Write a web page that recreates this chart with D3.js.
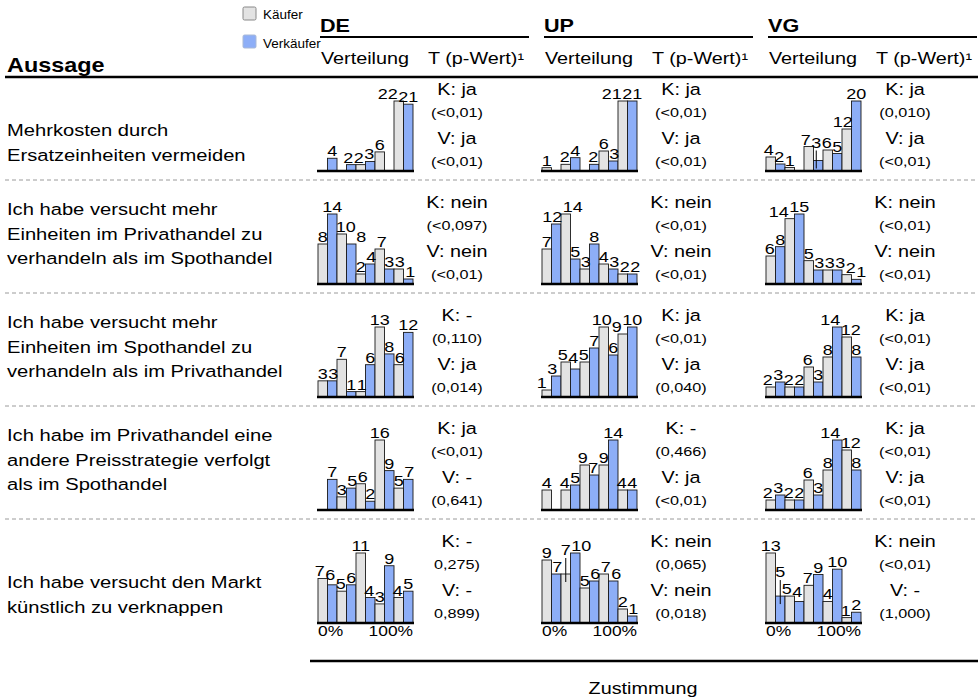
<!DOCTYPE html>
<html>
<head>
<meta charset="utf-8">
<script src="https://cdn.jsdelivr.net/npm/d3@7/dist/d3.min.js"></script>
<style>
body { margin: 0; background: #fff; }
svg text { font-family: "Liberation Sans", Arial, Helvetica, sans-serif; fill: #000; }
</style>
</head>
<body>
<svg id="chart" width="980" height="700"></svg>
<script>
// data
var groups = ["DE", "UP", "VG"];
var levels = [1, 2, 3, 4, 5];
var seriesNames = ["Käufer", "Verkäufer"];
var axisLabels = ["0%", "100%"];
var statements = [
    ["Mehrkosten durch", "Ersatzeinheiten vermeiden"],
    ["Ich habe versucht mehr", "Einheiten im Privathandel zu", "verhandeln als im Spothandel"],
    ["Ich habe versucht mehr", "Einheiten im Spothandel zu", "verhandeln als im Privathandel"],
    ["Ich habe im Privathandel eine", "andere Preisstrategie verfolgt", "als im Spothandel"],
    ["Ich habe versucht den Markt", "künstlich zu verknappen"]
];

// counts per answer level (1..5), one row per statement
var buyersDE  = [[0, 0, 2, 6, 22], [8, 10, 2, 7, 3], [3, 7, 1, 13, 6], [0, 3, 6, 16, 5], [7, 5, 11, 3, 4]];
var sellersDE = [[4, 2, 3, 0, 21], [14, 8, 4, 3, 1], [3, 1, 6, 8, 12], [7, 5, 2, 9, 7], [6, 6, 4, 9, 5]];
var buyersUP  = [[1, 2, 0, 6, 21], [7, 14, 3, 4, 2], [1, 5, 5, 10, 9], [4, 4, 9, 9, 4], [9, 7, 5, 7, 2]];
var sellersUP = [[0, 4, 2, 3, 21], [12, 5, 8, 3, 2], [3, 4, 7, 6, 10], [0, 5, 7, 14, 4], [7, 10, 6, 6, 1]];
var buyersVG  = [[4, 1, 7, 6, 12], [6, 14, 5, 3, 2], [2, 2, 6, 8, 12], [2, 2, 6, 8, 12], [13, 5, 7, 4, 1]];
var sellersVG = [[2, 0, 3, 5, 20], [8, 15, 3, 3, 1], [3, 2, 3, 14, 8], [3, 2, 3, 14, 8], [5, 4, 9, 10, 2]];

var testDE = [["K: ja", "(<0,01)", "V: ja", "(<0,01)"], ["K: nein", "(<0,097)", "V: nein", "(<0,01)"],
    ["K: -", "(0,110)", "V: ja", "(0,014)"], ["K: ja", "(<0,01)", "V: -", "(0,641)"], ["K: -", "0,275)", "V: -", "0,899)"]];
var testUP = [["K: ja", "(<0,01)", "V: ja", "(<0,01)"], ["K: nein", "(<0,01)", "V: nein", "(<0,01)"],
    ["K: ja", "(<0,01)", "V: ja", "(0,040)"], ["K: -", "(0,466)", "V: ja", "(<0,01)"], ["K: nein", "(0,065)", "V: nein", "(0,018)"]];
var testVG = [["K: ja", "(0,010)", "V: ja", "(<0,01)"], ["K: nein", "(<0,01)", "V: nein", "(<0,01)"],
    ["K: ja", "(<0,01)", "V: ja", "(<0,01)"], ["K: ja", "(<0,01)", "V: ja", "(<0,01)"], ["K: nein", "(<0,01)", "V: -", "(1,000)"]];

var buyers = {DE: buyersDE, UP: buyersUP, VG: buyersVG};
var sellers = {DE: sellersDE, UP: sellersUP, VG: sellersVG};
var tests = {DE: testDE, UP: testUP, VG: testVG};

// layout
var SX = 1.2;           // text is a bit wide in the original
var colors = ["#e3e3e3", "#8daef7"];
var chartW = 95, chartH = 70;
var labelSize = 15;

var svg = d3.select("#chart");

var xGroup = d3.scaleBand().domain(groups).range([308, 980]);
var yRow = d3.scaleBand().domain(d3.range(statements.length)).range([59, 624]);

function addText(parent, x, y, str, size, anchor, bold, sx){
    return parent.append("text")
        .attr("transform", "translate(" + x + "," + y + ") scale(" + (sx || SX) + ",1)")
        .attr("font-size", size)
        .attr("font-weight", bold ? "bold" : "normal")
        .attr("text-anchor", anchor || "start")
        .text(str);
}

// candidate offsets for count labels, cheapest first
var candidates = [];
for (var lift = 0; lift <= 50; lift++) {
    for (var dx = -14; dx <= 14; dx++) {
        candidates.push({dx: dx, lift: lift, cost: Math.abs(dx) + 1.4 * lift});
    }
}
candidates.sort(function(a, b){ return a.cost - b.cost; });

function hit(a, b, pad){
    return a.x0 < b.x1 - pad && a.x1 > b.x0 + pad && a.y0 < b.y1 - pad && a.y1 > b.y0 + pad;
}

// greedy placement in a given order, returns picks by slot and total cost
function placeInOrder(order, rects, xmin, xmax){
    var placed = [], res = {}, total = 0;
    order.forEach(function(it){
        var pick = null;
        for (var i = 0; i < candidates.length && !pick; i++) {
            var c = candidates[i];
            var cx = it.cx0 + c.dx, by = it.top - 2 - c.lift;
            var glyph = {x0: cx - it.w / 2, x1: cx + it.w / 2, y0: by - 11, y1: by};
            var full = {x0: glyph.x0, x1: glyph.x1, y0: by - labelSize * 0.9, y1: by + labelSize * 0.21};
            if (glyph.x0 < xmin || glyph.x1 > xmax) continue;
            var bad = rects.some(function(r){ return r.slot !== it.slot && hit(glyph, r, 1.5); }) ||
                placed.some(function(p){ return hit(full, p, 0); });
            if (!bad) pick = {cx: cx, by: by, lift: c.lift, cost: c.cost, full: full};
        }
        if (!pick) pick = {cx: it.cx0, by: it.top - 2, lift: 0, cost: 100, full: null};
        if (pick.full) placed.push(pick.full);
        res[it.slot] = pick;
        total += pick.cost;
    });
    return {res: res, total: total};
}

function drawChart(g, x0, base, kVals, vVals){
    var cells = [];
    levels.forEach(function(l, i){
        cells.push({slot: 2 * i, value: kVals[i], series: 0});
        cells.push({slot: 2 * i + 1, value: vVals[i], series: 1});
    });

    var x = d3.scaleBand().domain(d3.range(cells.length)).range([x0, x0 + chartW]);
    var y = d3.scaleLinear()
        .domain([0, d3.max(cells, function(d){ return d.value; })])
        .range([base, base - chartH]);

    var shown = cells.filter(function(d){ return d.value > 0; });

    g.selectAll("rect.bar").data(shown).enter().append("rect")
        .attr("class", "bar")
        .attr("x", function(d){ return x(d.slot); })
        .attr("y", function(d){ return y(d.value); })
        .attr("width", x.bandwidth())
        .attr("height", function(d){ return base - y(d.value); })
        .attr("fill", function(d){ return colors[d.series]; })
        .attr("stroke", "#1a1a1a")
        .attr("stroke-width", 0.9);

    g.append("line")
        .attr("x1", x0 - 1).attr("x2", x0 + chartW + 1)
        .attr("y1", base).attr("y2", base)
        .attr("stroke", "#000").attr("stroke-width", 2.6);

    // count labels: try a few orders, keep the cheapest layout
    var rects = shown.map(function(d){
        return {slot: d.slot, x0: x(d.slot), x1: x(d.slot) + x.bandwidth(), y0: y(d.value), y1: base};
    });
    var items = shown.map(function(d){
        var t = addText(g, 0, 0, d.value, labelSize, "middle");
        return {slot: d.slot, value: d.value, t: t,
            w: t.node().getComputedTextLength() * SX,
            cx0: x(d.slot) + x.bandwidth() / 2, top: y(d.value)};
    });
    var orders = [
        items.slice(),
        items.slice().reverse(),
        items.slice().sort(function(a, b){ return b.value - a.value || a.slot - b.slot; }),
        items.slice().sort(function(a, b){ return b.value - a.value || b.slot - a.slot; })
    ];
    var best = null;
    orders.forEach(function(o){
        var r = placeInOrder(o, rects, x0 - 12, x0 + chartW + 12);
        if (!best || r.total < best.total) best = r;
    });

    items.forEach(function(it){
        var p = best.res[it.slot];
        it.t.attr("transform", "translate(" + p.cx + "," + p.by + ") scale(" + SX + ",1)");
        if (p.lift > 10) {
            var lx = Math.max(x(it.slot) + 2, Math.min(x(it.slot) + x.bandwidth() - 2, p.cx));
            g.append("line")
                .attr("x1", lx).attr("x2", lx)
                .attr("y1", p.by + 3).attr("y2", Math.min(base, it.top + 8))
                .attr("stroke", "#000").attr("stroke-width", 1);
        }
    });
}

// legend
seriesNames.forEach(function(s, i){
    svg.append("rect")
        .attr("x", 243).attr("y", 7 + i * 28)
        .attr("width", 13).attr("height", 13).attr("rx", 1.5)
        .attr("fill", colors[i])
        .attr("stroke", i === 0 ? "#888" : "#a9b9d6").attr("stroke-width", 1);
    addText(svg, 263, 19 + i * 29, s, 12.5, "start", false, 1.08);
});

// header
addText(svg, 7, 72, "Aussage", 19.5, "start", true);
groups.forEach(function(gname){
    var gx = xGroup(gname);
    addText(svg, gx + 12, 32, gname, 18, "start", true);
    svg.append("line")
        .attr("x1", gx + 12).attr("x2", gx + xGroup.bandwidth() - 3)
        .attr("y1", 37).attr("y2", 37)
        .attr("stroke", "#000").attr("stroke-width", 2.2);
    addText(svg, gx + 13, 64, "Verteilung", 16.5);
    addText(svg, gx + 120, 64, "T (p-Wert)\u00b9", 16.5);
});
svg.append("line")
    .attr("x1", 5).attr("x2", 978).attr("y1", 77).attr("y2", 77)
    .attr("stroke", "#000").attr("stroke-width", 2.5);

// rows
statements.forEach(function(lines, r){
    var top = yRow(r);
    var first = top + (lines.length === 3 ? 43 : 77);
    lines.forEach(function(line, k){
        addText(svg, 7, first + k * 24.5, line, 16.8);
    });
    if (r < statements.length - 1) {
        svg.append("line")
            .attr("x1", 5).attr("x2", 978)
            .attr("y1", top + 121).attr("y2", top + 121)
            .attr("stroke", "#9a9a9a").attr("stroke-width", 1)
            .attr("stroke-dasharray", "4,3");
    }
    groups.forEach(function(gname){
        var gx = xGroup(gname);
        var g = svg.append("g");
        drawChart(g, gx + 10, top + 112, buyers[gname][r], sellers[gname][r]);
        var t = tests[gname][r];
        var tx = gx + 149;
        addText(svg, tx, top + 36, t[0], 16.5, "middle");
        addText(svg, tx, top + 58, t[1], 13.5, "middle");
        addText(svg, tx, top + 85, t[2], 16.5, "middle");
        addText(svg, tx, top + 107, t[3], 13.5, "middle");
    });
});

// bottom axis
groups.forEach(function(gname){
    var x0 = xGroup(gname) + 10;
    addText(svg, x0, 636, axisLabels[0], 14.5);
    addText(svg, x0 + chartW, 636, axisLabels[1], 14.5, "end");
});
svg.append("line")
    .attr("x1", 310).attr("x2", 978).attr("y1", 661).attr("y2", 661)
    .attr("stroke", "#000").attr("stroke-width", 2.5);
addText(svg, 643, 694, "Zustimmung", 16.5, "middle");
</script>
</body>
</html>
